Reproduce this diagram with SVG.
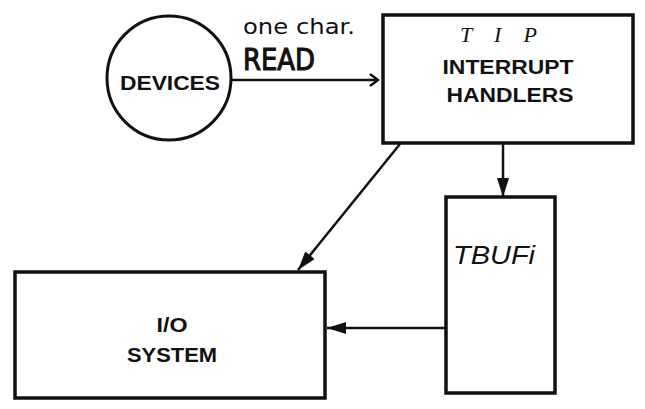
<svg xmlns="http://www.w3.org/2000/svg" width="645" height="409" viewBox="0 0 645 409">
<style>
.box{fill:none;stroke:#111;stroke-width:3.5}
.lbl{font-family:"Liberation Sans",Arial,sans-serif;font-weight:bold;fill:#111;text-anchor:middle}
.hand{font-family:"DejaVu Sans","Liberation Sans",sans-serif;fill:#111}
.conn{fill:none;stroke:#111;stroke-width:2.5}
</style>
<defs>
<marker id="open" markerWidth="12" markerHeight="14" refX="10" refY="7" orient="auto" markerUnits="userSpaceOnUse">
<path d="M2,1 L10,7 L2,13" fill="none" stroke="#111" stroke-width="2.5"/>
</marker>
<marker id="solid" markerWidth="20" markerHeight="12" refX="19" refY="6" orient="auto" markerUnits="userSpaceOnUse">
<path d="M0,0 L19,6 L0,12 Z" fill="#111"/>
</marker>
</defs>
<rect width="645" height="409" fill="#fff"/>
<g id="devices">
<circle cx="169" cy="78" r="62" fill="none" stroke="#111" stroke-width="3"/>
<text class="lbl" x="170" y="90" font-size="21" textLength="100" lengthAdjust="spacingAndGlyphs">DEVICES</text>
</g>
<g id="tip">
<rect class="box" x="383" y="15" width="250" height="128" stroke-width="4"/>
<text x="460" y="42" font-family="'Liberation Serif',serif" font-style="italic" font-size="22" fill="#111" textLength="77" lengthAdjust="spacing">T I P</text>
<text class="lbl" x="508" y="74" font-size="20" textLength="131" lengthAdjust="spacingAndGlyphs">INTERRUPT</text>
<text class="lbl" x="510" y="102" font-size="20" textLength="127" lengthAdjust="spacingAndGlyphs">HANDLERS</text>
</g>
<g id="tbufs">
<rect class="box" x="446" y="197" width="109" height="196"/>
<text x="453" y="264" font-family="'Liberation Sans',sans-serif" font-style="italic" font-size="26" fill="#111" textLength="82" lengthAdjust="spacingAndGlyphs">TBUFi</text>
</g>
<g id="io">
<rect class="box" x="15" y="272" width="310" height="126"/>
<text class="lbl" x="172" y="332" font-size="20" textLength="31" lengthAdjust="spacingAndGlyphs">I/O</text>
<text class="lbl" x="172" y="362" font-size="20" textLength="90" lengthAdjust="spacingAndGlyphs">SYSTEM</text>
</g>
<g id="connectors">
<line class="conn" x1="232" y1="80" x2="378" y2="80" marker-end="url(#open)"/>
<text class="hand" x="243" y="34" font-size="22" textLength="112" lengthAdjust="spacingAndGlyphs">one char.</text>
<text class="hand" x="243" y="70" font-size="31" stroke="#111" stroke-width="1.2" textLength="72" lengthAdjust="spacingAndGlyphs">READ</text>
<line class="conn" x1="503" y1="143" x2="503" y2="197" stroke-width="3" marker-end="url(#solid)"/>
<line class="conn" x1="400" y1="144" x2="298" y2="270" stroke-width="3" marker-end="url(#solid)"/>
<line class="conn" x1="446" y1="328" x2="327" y2="328" marker-end="url(#solid)"/>
</g>
</svg>
